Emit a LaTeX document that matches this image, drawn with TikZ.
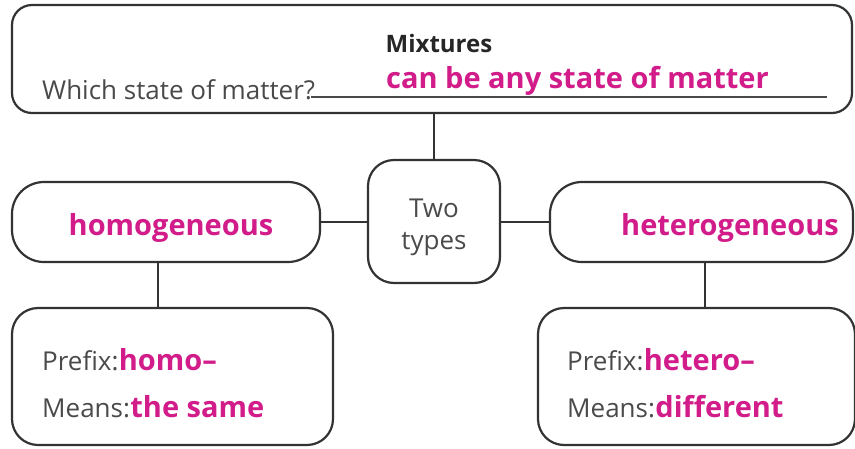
\documentclass[tikz,border=0pt]{standalone}
\usepackage{fontspec}
\setmainfont{Open Sans}
\definecolor{linecol}{HTML}{333333}
\definecolor{textgray}{HTML}{4A4A4A}
\definecolor{pinkword}{HTML}{D11C8A}
\begin{document}
\begin{tikzpicture}[x=1pt,y=-1pt,
  box/.style={draw=linecol,line width=2.2pt,fill=white,rounded corners=#1,inner sep=0pt},
  box/.default=22pt,
  link/.style={draw=linecol,line width=2.2pt},
  plain/.style={text=textgray,font=\fontsize{26}{28}\selectfont,inner sep=0pt},
  accent/.style={text=pinkword,font=\fontsize{29}{32}\selectfont\bfseries,inner sep=0pt}]
\useasboundingbox (0,0) rectangle (855,448);

% boxes
\node[box=20pt,minimum width=840pt,minimum height=108pt] (top) at (432,59) {};
\node[box=26pt,minimum width=132pt,minimum height=123pt] (two) at (434,221.5) {};
\node[box=32pt,minimum width=308pt,minimum height=80pt] (homo) at (166,222) {};
\node[box=32pt,minimum width=303pt,minimum height=80pt] (hetero) at (701.5,222) {};
\node[box=26pt,minimum width=321pt,minimum height=137pt] (lowl) at (172.5,376.5) {};
\node[box=26pt,minimum width=317pt,minimum height=137pt] (lowr) at (696.5,376.5) {};

% connectors
\draw[link] (two.north) -- (two.north |- top.south);
\draw[link] (homo.east) -- (homo.east -| two.west);
\draw[link] (hetero.west) -- (hetero.west -| two.east);
\coordinate (hl) at (158,262);
\draw[link] (hl) -- (hl |- lowl.north);
\coordinate (hr) at (705,262);
\draw[link] (hr) -- (hr |- lowr.north);

% top box texts
\node[anchor=base,text=black!85,font=\fontsize{24}{28}\selectfont\bfseries,inner sep=0pt] (mix) at (439,52) {Mixtures};
\node[plain,anchor=base west] (which) at (42,99) {Which state of matter?};
\coordinate (ulend) at (827,97);
\draw[line width=1.5pt,draw=textgray] (which.base east) ++(-4,-2) -- (ulend);
\node[accent,anchor=base west] (any) at (386,88) {can be any state of matter};

% middle texts
\node[plain,align=center,font=\fontsize{26}{32}\selectfont] (twotxt) at (434,227) {Two\\types};
\node[accent,anchor=base] (homotxt) at (171,235) {homogeneous};
\node[accent,anchor=base] (hetetxt) at (730,235) {heterogeneous};

% lower left texts
\node[plain,anchor=base west] (pl) at (42,370) {Prefix:};
\node[accent,anchor=base west] (plv) at (pl.base east) {homo--};
\node[plain,anchor=base west] (ml) at (42,417) {Means:};
\node[accent,anchor=base west] (mlv) at (ml.base east) {the same};

% lower right texts
\node[plain,anchor=base west] (pr) at (567,370) {Prefix:};
\node[accent,anchor=base west] (prv) at (pr.base east) {hetero--};
\node[plain,anchor=base west] (mr) at (567,417) {Means:};
\node[accent,anchor=base west] (mrv) at (mr.base east) {different};
\end{tikzpicture}
\end{document}
